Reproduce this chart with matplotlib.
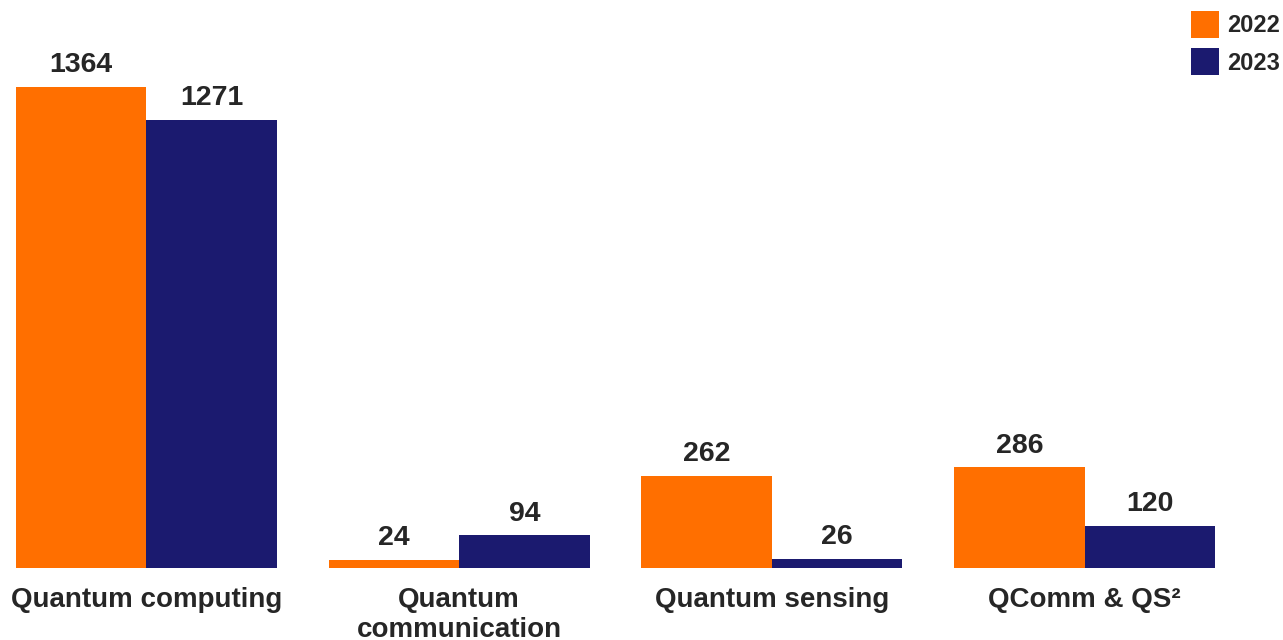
import matplotlib.pyplot as plt
import numpy as np

#------------------------------------------------------------------------------
# Data
#------------------------------------------------------------------------------
categories = ['Quantum computing', 'Quantum\ncommunication', 'Quantum sensing', 'QComm & QS\u00b2']
values_2022 = [1364, 24, 262, 286]
values_2023 = [1271, 94, 26, 120]
years = ['2022', '2023']

orange = '#FF6F00'
navy = '#1B1A6F'
txt = '#262626'

plt.rcParams['font.family'] = ['Liberation Sans', 'DejaVu Sans']
plt.rcParams['font.weight'] = 'bold'

#------------------------------------------------------------------------------
# Plot
#------------------------------------------------------------------------------
fig = plt.figure(figsize=(12.83, 6.4), dpi=100)
ax = fig.add_axes([16/1283, 72/640, 1199/1283, 568/640])

x = np.arange(len(categories))
w = 0.417
b1 = ax.bar(x - w/2, values_2022, w, color=orange, label=years[0])
b2 = ax.bar(x + w/2, values_2023, w, color=navy, label=years[1])

for bars in (b1, b2):
    ax.bar_label(bars, padding=6, fontsize=20.5, fontweight='bold', color=txt)

ax.set_xlim(-w, len(categories) - 1 + w)
ax.set_ylim(0, 1610)
ax.set_xticks(x)
ax.set_xticklabels(categories, fontsize=20, fontweight='bold', color=txt, linespacing=1.2)
ax.tick_params(axis='x', length=0, pad=14)
ax.set_yticks([])
for s in ax.spines.values():
    s.set_visible(False)

fig.legend(loc='upper right', bbox_to_anchor=(0.998, 0.983), frameon=False,
           prop={'weight': 'bold', 'size': 17},
           handlelength=1.15, handleheight=1.38, labelspacing=0.44,
           handletextpad=0.38, borderpad=0, borderaxespad=0, labelcolor=txt)

fig.savefig('out.png', dpi=100)
